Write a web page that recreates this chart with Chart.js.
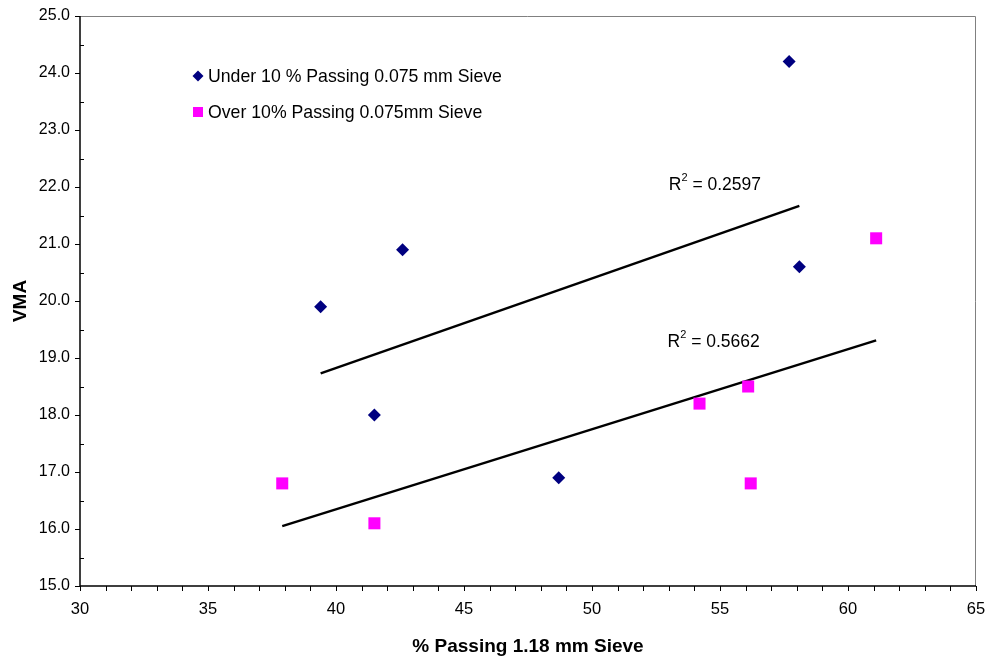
<!DOCTYPE html>
<html>
<head>
<meta charset="utf-8">
<script src="https://cdn.jsdelivr.net/npm/chart.js@4"></script>
<style>
  html, body { margin: 0; padding: 0; background: #fff; }
  #wrap { width: 989px; height: 658px; }
</style>
</head>
<body>
<div id="wrap"><canvas id="myChart" width="989" height="658"></canvas></div>
<script>
// data
const underX = [39.4, 41.5, 42.6, 48.7, 57.7, 58.1];
const underY = [19.9, 18.0, 20.9, 16.9, 24.2, 20.6];
const overX = [37.9, 41.5, 54.2, 56.1, 56.2, 61.1];
const overY = [16.8, 16.1, 18.2, 18.5, 16.8, 21.1];
// trend line ends
const trendUnderX = [39.4, 58.1];
const trendUnderY = [18.73, 21.67];
const trendOverX = [37.9, 61.1];
const trendOverY = [16.05, 19.31];
const r2Labels = ['0.2597', '0.5662'];
const legendNames = ['Under 10 % Passing 0.075 mm Sieve', 'Over 10% Passing 0.075mm Sieve'];

function puntos(xs, ys) {
    return xs.map((x, i) => ({ x: x, y: ys[i] }));
}

const fuente = 'Liberation Sans, Arial, sans-serif';

const marcoYTicks = {
    id: 'marcoYTicks',
    beforeDatasetsDraw(chart) {
        const ctx = chart.ctx;
        const a = chart.chartArea;
        const xs = chart.scales.x, ys = chart.scales.y;
        ctx.save();
        // top and right in grey
        ctx.strokeStyle = '#808080';
        ctx.lineWidth = 1;
        ctx.beginPath();
        ctx.moveTo(a.left, a.top + 0.5);
        ctx.lineTo(a.right - 0.5, a.top + 0.5);
        ctx.lineTo(a.right - 0.5, a.bottom);
        ctx.stroke();
        // left and bottom in black
        ctx.strokeStyle = '#000';
        ctx.lineWidth = 1.5;
        ctx.beginPath();
        ctx.moveTo(a.left, a.top);
        ctx.lineTo(a.left, a.bottom);
        ctx.lineTo(a.right, a.bottom);
        ctx.stroke();
        ctx.lineWidth = 1;
        ctx.beginPath();
        // y ticks: majors outside, minors inside
        for (let v = 15; v <= 25.001; v += 0.5) {
            const py = Math.round(ys.getPixelForValue(v)) + 0.5;
            if (Math.abs(v - Math.round(v)) < 0.01) {
                ctx.moveTo(a.left - 5, py); ctx.lineTo(a.left, py);
            } else {
                ctx.moveTo(a.left, py); ctx.lineTo(a.left + 4, py);
            }
        }
        // x ticks every 1 unit, outside
        for (let v = 30; v <= 65; v += 1) {
            const px = Math.round(xs.getPixelForValue(v)) + 0.5;
            ctx.moveTo(px, a.bottom); ctx.lineTo(px, a.bottom + 5);
        }
        ctx.stroke();
        ctx.restore();
    },
    afterDatasetsDraw(chart) {
        const ctx = chart.ctx;
        const xs = chart.scales.x, ys = chart.scales.y;
        ctx.save();
        ctx.fillStyle = '#000';
        ctx.textBaseline = 'middle';
        ctx.textAlign = 'left';
        // legend
        ctx.font = '17.7px ' + fuente;
        ctx.fillStyle = '#000080';
        ctx.beginPath();
        ctx.moveTo(198, 70.5); ctx.lineTo(203.5, 76); ctx.lineTo(198, 81.5); ctx.lineTo(192.5, 76);
        ctx.closePath(); ctx.fill();
        ctx.fillStyle = '#ff00ff';
        ctx.fillRect(193, 107, 10, 10);
        ctx.fillStyle = '#000';
        ctx.fillText(legendNames[0], 208, 77);
        ctx.fillText(legendNames[1], 208, 113);
        // R2 labels
        const pos = [[53.0, 22.05], [52.95, 19.3]];
        r2Labels.forEach((t, i) => {
            let px = xs.getPixelForValue(pos[i][0]);
            const py = ys.getPixelForValue(pos[i][1]);
            ctx.font = '17.5px ' + fuente;
            ctx.fillText('R', px, py + 1);
            px += ctx.measureText('R').width;
            ctx.font = '11px ' + fuente;
            ctx.fillText('2', px, py - 6);
            px += ctx.measureText('2').width;
            ctx.font = '17.5px ' + fuente;
            ctx.fillText(' = ' + t, px, py + 1);
        });
        ctx.restore();
    }
};

const sinRelleno = s => { s.paddingLeft = 0; s.paddingRight = 0; s.paddingTop = 0; s.paddingBottom = 0; };

const contenedor = document.getElementById('myChart').getContext('2d');
window.myCharts = new Chart(contenedor, {
    type: 'scatter',
    data: {
        datasets: [
            {
                label: legendNames[0],
                data: puntos(underX, underY),
                pointStyle: 'rectRot',
                pointRadius: 6.5,
                backgroundColor: '#000080',
                borderColor: '#000080',
                borderWidth: 0
            },
            {
                label: legendNames[1],
                data: puntos(overX, overY),
                pointStyle: 'rect',
                pointRadius: 8.5,
                backgroundColor: '#ff00ff',
                borderColor: '#ff00ff',
                borderWidth: 0
            },
            {
                label: 'trend 1',
                data: puntos(trendUnderX, trendUnderY),
                showLine: true,
                pointRadius: 0,
                borderColor: '#000',
                borderWidth: 2.5
            },
            {
                label: 'trend 2',
                data: puntos(trendOverX, trendOverY),
                showLine: true,
                pointRadius: 0,
                borderColor: '#000',
                borderWidth: 2.5
            }
        ]
    },
    options: {
        responsive: false,
        animation: false,
        layout: { padding: { top: 16, right: 13, left: 5, bottom: 0 } },
        plugins: {
            legend: { display: false },
            tooltip: { enabled: false }
        },
        scales: {
            x: {
                type: 'linear',
                min: 30,
                max: 65,
                afterFit: s => { s.height = 72; sinRelleno(s); },
                ticks: {
                    stepSize: 5,
                    color: '#000',
                    padding: 14,
                    font: { family: fuente, size: 16.5 }
                },
                grid: { display: false, drawTicks: false },
                border: { display: false },
                title: {
                    display: true,
                    text: '% Passing 1.18 mm Sieve',
                    color: '#000',
                    font: { family: fuente, size: 19, weight: 'bold' },
                    padding: { top: 17, bottom: 0 }
                }
            },
            y: {
                min: 15,
                max: 25,
                afterFit: s => { s.width = 75; sinRelleno(s); },
                ticks: {
                    stepSize: 1,
                    color: '#000',
                    padding: 10,
                    font: { family: fuente, size: 16 },
                    callback: v => Number(v).toFixed(1)
                },
                grid: { display: false, drawTicks: false },
                border: { display: false },
                title: {
                    display: true,
                    text: 'VMA',
                    color: '#000',
                    font: { family: fuente, size: 19, weight: 'bold' },
                    padding: { bottom: 0 }
                }
            }
        }
    },
    plugins: [marcoYTicks]
});
</script>
</body>
</html>
